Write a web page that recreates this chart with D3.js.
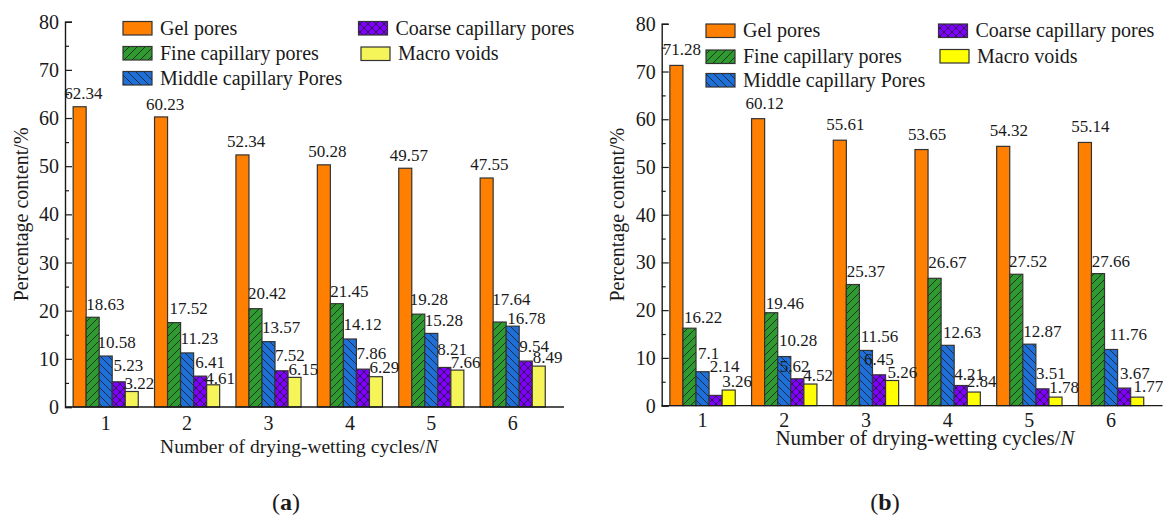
<!DOCTYPE html>
<html>
<head>
<meta charset="utf-8">
<script src="https://cdn.jsdelivr.net/npm/d3@7"></script>
<style>
  html, body { margin: 0; padding: 0; background: #fff; }
  svg { display: block; }
  svg text { font-family: "Times New Roman", "Liberation Serif", "DejaVu Serif", serif; fill: #1a1a1a; }
</style>
</head>
<body>
<svg id="fig" width="1163" height="517"></svg>
<script>
// Drying-wetting cycles on the x axis
const cycles = [1, 2, 3, 4, 5, 6];
const yTicks = [0, 10, 20, 30, 40, 50, 60, 70, 80];
const seriesNames = ["Gel pores", "Fine capillary pores", "Middle capillary Pores",
                     "Coarse capillary pores", "Macro voids"];

// Panel (a): pore size distribution, percentage content
const gelA    = [62.34, 60.23, 52.34, 50.28, 49.57, 47.55];
const fineA   = [18.63, 17.52, 20.42, 21.45, 19.28, 17.64];
const middleA = [10.58, 11.23, 13.57, 14.12, 15.28, 16.78];
const coarseA = [5.23, 6.41, 7.52, 7.86, 8.21, 9.54];
const macroA  = [3.22, 4.61, 6.15, 6.29, 7.66, 8.49];

// Panel (b)
const gelB    = [71.28, 60.12, 55.61, 53.65, 54.32, 55.14];
const fineB   = [16.22, 19.46, 25.37, 26.67, 27.52, 27.66];
const middleB = [7.1, 10.28, 11.56, 12.63, 12.87, 11.76];
const coarseB = [2.14, 5.62, 6.45, 4.21, 3.51, 3.67];
const macroB  = [3.26, 4.52, 5.26, 2.84, 1.78, 1.77];

// Hand placement of the value labels: [dx from bar's left edge, gap above bar top]
const labelNudgeA = [
  [[-9, 7.5], [-8.5, 7], [-9, 7.5], [-9, 7.5], [-9, 7.5], [-10, 7.5]],
  [[0, 7.3], [2, 8.3], [-1, 9.3], [0, 6.6], [-2, 9], [-1, 16.7]],
  [[-1.7, 8.4], [0, 9.4], [0, 8.3], [0, 9], [0, 7.7], [1, 2]],
  [[1.3, 11.3], [1.6, 7.7], [0, 10], [0, 10], [-0.5, 12], [0, 9.3]],
  [[-0.7, 2.4], [-1.4, 1], [0.5, 2.3], [0, 3.3], [0, 2], [0.6, 2.7]]
];
const labelNudgeB = [
  [[-7, 10], [-6, 10], [-7, 10], [-7, 10], [-7, 10], [-7, 10]],
  [[1, 5.6], [1, 4], [0.3, 7.6], [0.2, 10], [-0.8, 7.3], [0.2, 6.6]],
  [[2, 12.7], [1.3, 10.7], [1.3, 8], [2, 7.7], [0.5, 6.7], [5, 9.3]],
  [[0.7, 23], [-11, 6.6], [-8.4, 10], [0, 6], [0, 10], [2.5, 9]],
  [[0, 3], [-0.7, 2.6], [2, 2.7], [-0.4, 4.6], [0.2, 4], [2.8, 5]]
];

const FONT = "'Times New Roman', 'Liberation Serif', serif";
const svg = d3.select("#fig");
const defs = svg.append("defs");

// Hatch fills
function hatch(id, color, dirs, size) {
  const p = defs.append("pattern")
    .attr("id", id)
    .attr("patternUnits", "userSpaceOnUse")
    .attr("width", size).attr("height", size);
  p.append("rect").attr("width", size).attr("height", size).attr("fill", color);
  dirs.forEach(a => {
    const d = a === "/"
      ? `M0,${size} L${size},0 M${-size/2},${size/2} L${size/2},${-size/2} M${size/2},${size*1.5} L${size*1.5},${size/2}`
      : `M0,0 L${size},${size} M${-size/2},${size/2} L${size/2},${size*1.5} M${size/2},${-size/2} L${size*1.5},${size/2}`;
    p.append("path").attr("d", d).attr("stroke", "#1a1a1a").attr("stroke-width", 0.8);
  });
}
hatch("hFine", "#2f9a2f", ["/"], 8);
hatch("hMiddle", "#1f6fd8", ["\\"], 8);
hatch("hCoarse", "#7f00ff", ["/", "\\"], 8);

const fillsA = ["#ff8000", "url(#hFine)", "url(#hMiddle)", "url(#hCoarse)", "#f5f55a"];
const fillsB = ["#ff8000", "url(#hFine)", "url(#hMiddle)", "url(#hCoarse)", "#ffff00"];

function panel(cfg) {
  const g = svg.append("g").attr("font-family", FONT);
  const x = d3.scaleLinear().domain([0.5, 6.63]).range([cfg.left, cfg.left + 6.13 * cfg.unit]);
  const y = d3.scaleLinear().domain([0, 80]).range([cfg.bottom, cfg.top]);
  const barW = 0.16;

  const series = cfg.series;
  series.forEach((vals, j) => {
    const off = (j - 2) * barW - barW / 2;
    g.selectAll(null).data(cycles).enter().append("rect")
      .attr("x", (c) => x(c + off))
      .attr("y", (c, i) => y(vals[i]))
      .attr("width", x(barW) - x(0))
      .attr("height", (c, i) => y(0) - y(vals[i]))
      .attr("fill", cfg.fills[j])
      .attr("stroke", "#333")
      .attr("stroke-width", 1.2);
  });

  // value labels
  series.forEach((vals, j) => {
    const off = (j - 2) * barW - barW / 2;
    g.selectAll(null).data(cycles).enter().append("text")
      .attr("x", (c, i) => x(c + off) + cfg.nudge[j][i][0])
      .attr("y", (c, i) => y(vals[i]) - cfg.nudge[j][i][1])
      .attr("font-size", 17)
      .text((c, i) => String(vals[i]));
  });

  // y axis with inward ticks
  const yAxis = d3.axisRight(y).tickValues(yTicks).tickSize(7).tickFormat("");
  const ya = g.append("g").attr("transform", `translate(${cfg.left},0)`).call(yAxis);
  const yMinor = d3.axisRight(y).tickValues(d3.range(5, 80, 10)).tickSize(4).tickFormat("");
  const ym = g.append("g").attr("transform", `translate(${cfg.left},0)`).call(yMinor);
  [ya, ym].forEach(a => {
    a.select(".domain").attr("stroke", "#1a1a1a").attr("stroke-width", 1.4);
    a.selectAll(".tick line").attr("stroke", "#1a1a1a").attr("stroke-width", 1.2);
  });
  ym.select(".domain").remove();
  g.selectAll(null).data(yTicks).enter().append("text")
    .attr("x", cfg.left - 6)
    .attr("y", d => y(d) + 7)
    .attr("text-anchor", "end")
    .attr("font-size", 20)
    .text(d => d);

  // x axis
  g.append("line")
    .attr("x1", x(0.5)).attr("x2", x(6.63))
    .attr("y1", y(0)).attr("y2", y(0))
    .attr("stroke", "#1a1a1a").attr("stroke-width", 1.4);
  g.selectAll(null).data(cycles).enter().append("text")
    .attr("x", c => x(c))
    .attr("y", cfg.xTickY)
    .attr("text-anchor", "middle")
    .attr("font-size", 20)
    .text(c => c);

  // axis titles
  g.append("text")
    .attr("transform", `translate(${cfg.yTitleX},${(cfg.top + cfg.bottom) / 2}) rotate(-90)`)
    .attr("text-anchor", "middle")
    .attr("font-size", 20)
    .text("Percentage content/%");
  const xt = g.append("text")
    .attr("x", cfg.xTitleX).attr("y", cfg.xTitleY)
    .attr("text-anchor", "middle")
    .attr("font-size", cfg.xTitleSize);
  xt.append("tspan").text("Number of drying-wetting cycles/");
  xt.append("tspan").attr("font-style", "italic").text("N");

  // legend
  cfg.legend.forEach((it) => {
    const k = it.k;
    g.append("rect")
      .attr("x", it.x).attr("y", it.y)
      .attr("width", 29).attr("height", 13.5)
      .attr("fill", cfg.fills[k])
      .attr("stroke", "#333").attr("stroke-width", 1.2);
    g.append("text")
      .attr("x", it.x + 37).attr("y", it.y + 13)
      .attr("font-size", 20)
      .text(seriesNames[k]);
  });

  // panel tag
  const tag = g.append("text")
    .attr("x", cfg.tagX).attr("y", 510)
    .attr("text-anchor", "middle")
    .attr("font-size", 24);
  tag.append("tspan").text("(");
  tag.append("tspan").attr("font-weight", "bold").text(cfg.tag);
  tag.append("tspan").text(")");
}

panel({
  series: [gelA, fineA, middleA, coarseA, macroA],
  nudge: labelNudgeA,
  fills: fillsA,
  left: 65, unit: 81.4, top: 21.7, bottom: 407,
  xTickY: 430,
  yTitleX: 28, xTitleX: 299, xTitleY: 453, xTitleSize: 19.5,
  legend: [
    { k: 0, x: 123, y: 21.5 },
    { k: 1, x: 123, y: 46.5 },
    { k: 2, x: 123, y: 71.5 },
    { k: 3, x: 358.5, y: 21.5 },
    { k: 4, x: 361, y: 47 }
  ],
  tag: "a", tagX: 286
});

panel({
  series: [gelB, fineB, middleB, coarseB, macroB],
  nudge: labelNudgeB,
  fills: fillsB,
  left: 661.7, unit: 81.7, top: 23.8, bottom: 405.6,
  xTickY: 427,
  yTitleX: 624, xTitleX: 925, xTitleY: 445, xTitleSize: 21,
  legend: [
    { k: 0, x: 706, y: 24 },
    { k: 1, x: 706, y: 50 },
    { k: 2, x: 706, y: 73.5 },
    { k: 3, x: 938.5, y: 24 },
    { k: 4, x: 940, y: 49.5 }
  ],
  tag: "b", tagX: 885
});
</script>
</body>
</html>
